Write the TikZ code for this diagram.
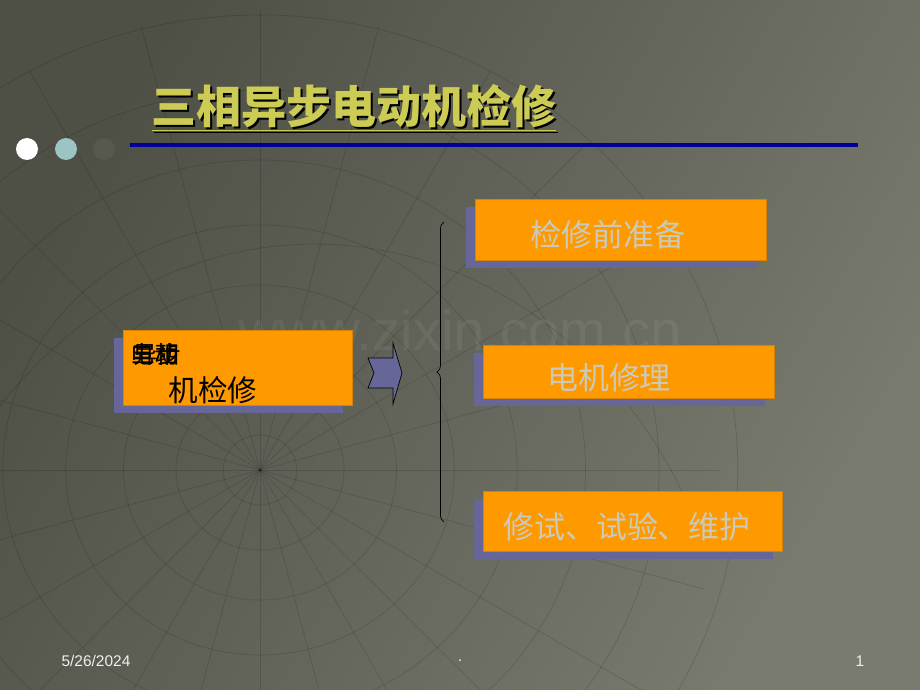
\documentclass[tikz,border=0pt]{standalone}
\usepackage{fontspec}
\setmainfont{Liberation Sans}
\newfontfamily\cjk{Noto Sans CJK SC}
\usetikzlibrary{shadows,decorations.pathreplacing}

\definecolor{fondoA}{HTML}{4E4F45}
\definecolor{fondoB}{HTML}{7A7B6F}
\definecolor{naranja}{HTML}{FF9900}
\definecolor{sombra}{HTML}{666699}
\definecolor{titulo}{HTML}{CCCC55}
\definecolor{textocaja}{HTML}{CACABA}
\definecolor{azul}{HTML}{000099}
\definecolor{turquesa}{HTML}{9CC4C4}

\tikzset{
  caja/.style={fill=naranja, draw=naranja!85!black, line width=0.4pt,
    general shadow={fill=sombra, shadow xshift=-0.225cm, shadow yshift=-0.2cm}},
  textocaja/.style={text=textocaja, font=\cjk\fontsize{22}{24}\selectfont},
  rejilla/.style={draw=black, opacity=0.14, line width=0.5pt},
  pie/.style={text=white!88!fondoB, font=\fontsize{11}{13}\selectfont}
}

\begin{document}
\begin{tikzpicture}[x=0.025cm, y=-0.025cm]
    \useasboundingbox (0,0) rectangle (920,690);

    % Fondo
    \shade[left color=fondoA, right color=fondoB, shading angle=60] (0,0) rectangle (920,690);
    \begin{scope}
      \clip (0,0) rectangle (920,690);
      \foreach \r in {35,80,130,185,245,310,380,455}
        \draw[rejilla] (260,470) ellipse ({\r*1.05} and \r);
      \foreach \a in {0,15,...,345}
        \draw[rejilla] (260,470) -- ++(\a:460);
      \draw[rejilla] (-80,560) arc (200:340:420 and 480);
    \end{scope}

    % Marca de agua
    \node[text=white, opacity=0.06, font=\fontsize{40}{40}\selectfont] (marca) at (460,330) {www.zixin.com.cn};

    % Titulo
    \node[text=black, font=\cjk\bfseries\fontsize{32}{34}\selectfont] at (356,110) {\underline{三相异步电动机检修}};
    \node[text=titulo, font=\cjk\bfseries\fontsize{32}{34}\selectfont] (titulo) at (354,108) {\underline{三相异步电动机检修}};
    \draw[azul, line width=2.2pt] (130,145) -- (858,145);
    \fill[white] (27,149) circle (11);
    \fill[turquesa] (66,149) circle (11);
    \fill[fondoA!80!fondoB] (104,149) circle (11);

    % Cajas
    \node[caja, minimum width=5.725cm, minimum height=1.875cm] (motor) at (237.5,367.5) {};
    \node[caja, minimum width=7.275cm, minimum height=1.525cm] (prep) at (620.5,229.5) {};
    \node[caja, minimum width=7.275cm, minimum height=1.325cm] (rep) at (628.5,371.5) {};
    \node[caja, minimum width=7.475cm, minimum height=1.5cm] (prueba) at (632.5,521) {};

    % Textos
    \foreach \t/\dx in {三相/0,异步/2,电动/-1}
      \node[font=\cjk\fontsize{17}{17}\selectfont] at (155+\dx,354) {\t};
    \node[font=\cjk\fontsize{21}{23}\selectfont] (motortxt) at (213,390) {机检修};
    \node[textocaja] (preptxt) at (608,235) {检修前准备};
    \node[textocaja] (reptxt) at (609,378) {电机修理};
    \node[textocaja] (pruebatxt) at (627,527) {修试、试验、维护};

    % Flecha y llave
    \draw[fill=sombra, draw=black, line width=0.5pt]
      (368,358) -- (393,358) -- (393,343) -- (402,373) -- (393,404)
      -- (393,388) -- (368,388) -- (374,373) -- cycle;
    \coordinate (llaveA) at (444,522);
    \coordinate (llaveB) at (444,222);
    \draw[decorate, decoration={brace, amplitude=5pt}, line width=0.5pt] (llaveA) -- (llaveB);

    % Pie
    \node[pie] (fecha) at (96,661) {5/26/2024};
    \node[pie] (punto) at (460,661) {.};
    \node[pie] (num) at (860,661) {1};
\end{tikzpicture}
\end{document}
